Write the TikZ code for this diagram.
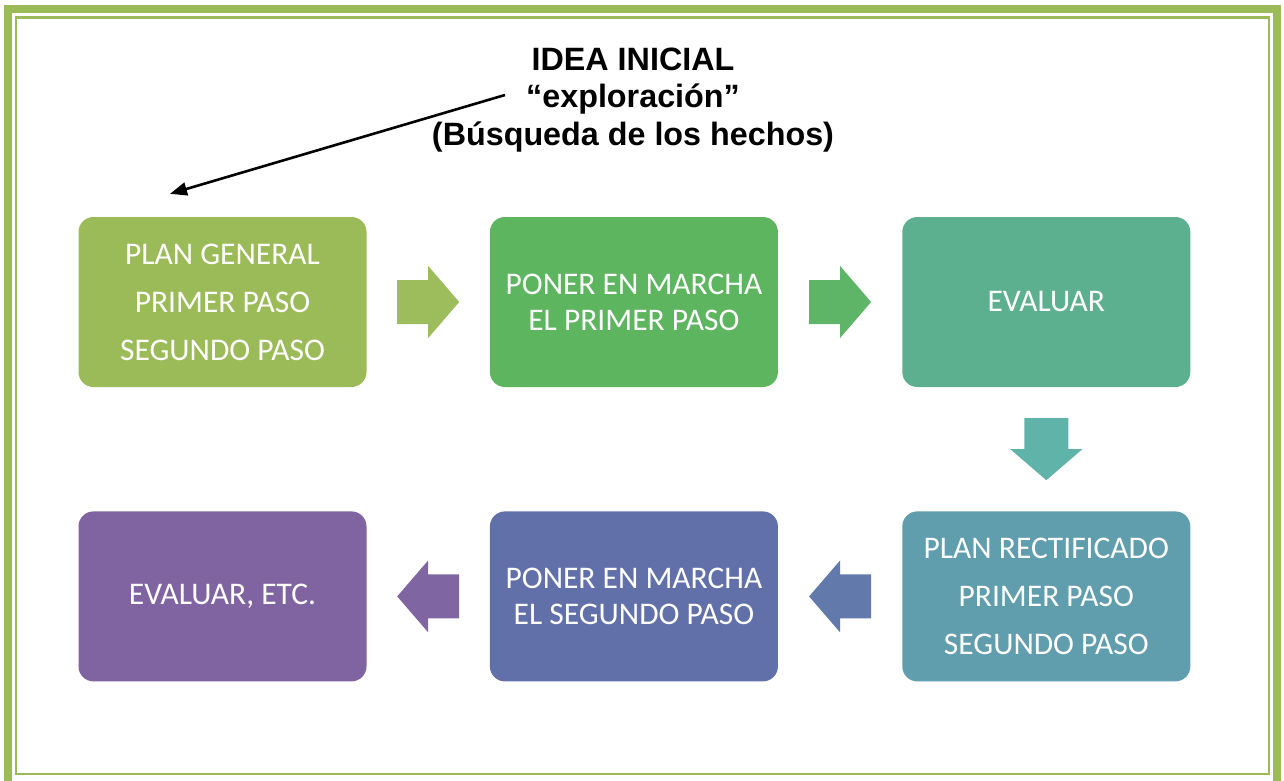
\documentclass[tikz,border=0pt]{standalone}
\usepackage{fontspec}
\setmainfont{Carlito}
\newfontfamily\arialfont{Liberation Sans}
\usetikzlibrary{positioning,calc,arrows.meta}

\definecolor{framegreen}{HTML}{9BBB59}
\definecolor{planA}{HTML}{9BBB59}
\definecolor{runA}{HTML}{5EB55F}
\definecolor{evalA}{HTML}{5DB08F}
\definecolor{planB}{HTML}{609DAD}
\definecolor{runB}{HTML}{6270AA}
\definecolor{evalB}{HTML}{8064A2}
\definecolor{arrA}{HTML}{9DBC5B}
\definecolor{arrB}{HTML}{5EB568}
\definecolor{arrC}{HTML}{60B3A8}
\definecolor{arrD}{HTML}{6279AB}
\definecolor{arrE}{HTML}{8065A3}

\tikzset{
	stepbox/.style={rectangle, rounded corners=15pt, minimum width=288pt, minimum height=170pt,
		inner sep=0pt, align=center, text=white, font=\fontsize{31.5}{36}\selectfont},
	blockarrow/.pic={
		\path[pic actions] (-31,22) -- (0,22) -- (0,36) -- (31,0) -- (0,-36) -- (0,-22) -- (-31,-22) -- cycle;
	}
}

\begin{document}
\begin{tikzpicture}[x=1pt, y=-1pt]
		\useasboundingbox (0,0) rectangle (1284,781);

		% frame
		\draw[framegreen, line width=8pt] (8,9) rectangle (1277,785);
		\draw[framegreen, line width=2.5pt] (16,17.5) rectangle (1269,774);

		% first row
		\node[stepbox, fill=planA] (plan1) at (222.5,302) {PLAN GENERAL\\[12pt]PRIMER PASO\\[12pt]SEGUNDO PASO};
		\node[stepbox, fill=runA, right=123pt of plan1] (run1) {PONER EN MARCHA\\EL PRIMER PASO};
		\node[stepbox, fill=evalA, right=124pt of run1] (eval1) {EVALUAR};

		% second row
		\node[stepbox, fill=planB, below=124pt of eval1] (plan2) {PLAN RECTIFICADO\\[12pt]PRIMER PASO\\[12pt]SEGUNDO PASO};
		\node[stepbox, fill=runB, left=124pt of plan2] (run2) {PONER EN MARCHA\\EL SEGUNDO PASO};
		\node[stepbox, fill=evalB, left=123pt of run2] (eval2) {EVALUAR, ETC.};

		% block arrows
		\pic[fill=arrA] at ($(plan1.east)!0.5!(run1.west)$) {blockarrow};
		\pic[fill=arrB] at ($(run1.east)!0.5!(eval1.west)$) {blockarrow};
		\pic[fill=arrC, rotate=-90] at ($(eval1.south)!0.5!(plan2.north)$) {blockarrow};
		\pic[fill=arrD, rotate=180] at ($(plan2.west)!0.5!(run2.east)$) {blockarrow};
		\pic[fill=arrE, rotate=180] at ($(run2.west)!0.5!(eval2.east)$) {blockarrow};

		% initial idea
		\node[align=center, font=\arialfont\bfseries\fontsize{32.3}{37.5}\selectfont] (idea) at (633,100)
			{IDEA INICIAL\\“exploración”\\(Búsqueda de los hechos)};
		\coordinate (ideatail) at (505,95);
		\coordinate (ideatip) at ($(plan1.north)+(-52.5,-23)$);
		\draw[line width=2.6pt, -{Triangle[length=17pt,width=13pt]}] (ideatail) -- (ideatip);
	\end{tikzpicture}
\end{document}
